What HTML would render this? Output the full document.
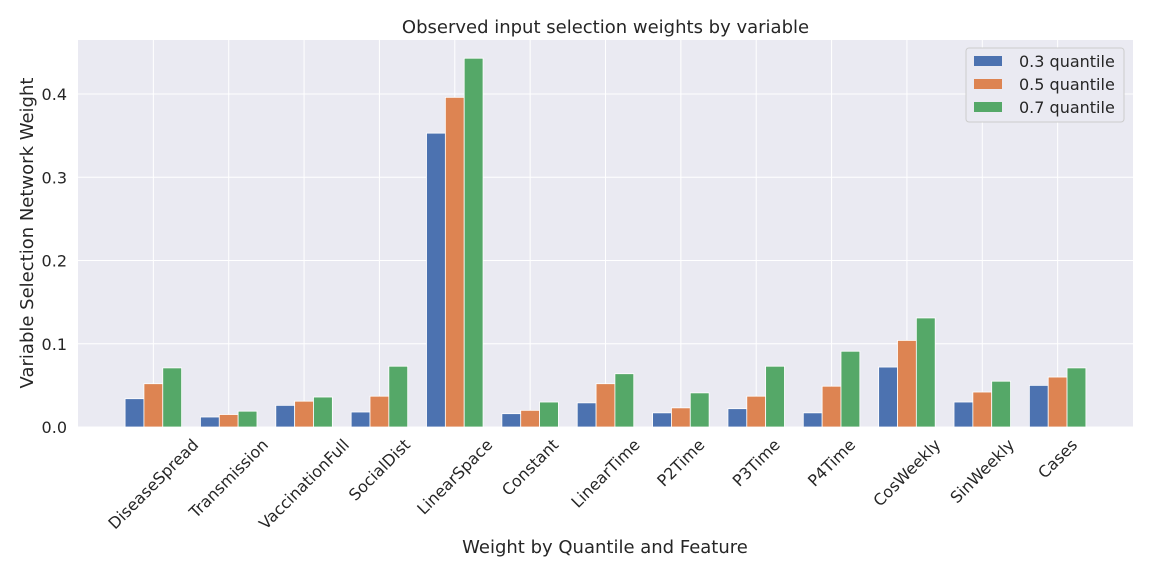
<!DOCTYPE html>
<html><head><meta charset="utf-8"><style>
body{margin:0;background:#fff;font-family:"Liberation Sans","DejaVu Sans",sans-serif}
</style></head><body>
<svg id="chart" width="1152" height="576" font-family="DejaVu Sans, Liberation Sans, sans-serif">
</svg>
<script>
const categories=["DiseaseSpread","Transmission","VaccinationFull","SocialDist","LinearSpace","Constant","LinearTime","P2Time","P3Time","P4Time","CosWeekly","SinWeekly","Cases"];
const q03=[0.034,0.012,0.026,0.018,0.353,0.016,0.029,0.017,0.022,0.017,0.072,0.030,0.050];
const q05=[0.052,0.015,0.031,0.037,0.396,0.020,0.052,0.023,0.037,0.049,0.104,0.042,0.060];
const q07=[0.071,0.019,0.036,0.073,0.443,0.030,0.064,0.041,0.073,0.091,0.131,0.055,0.071];
const yTicks=[0,0.1,0.2,0.3,0.4];
const yTickLabels=["0.0","0.1","0.2","0.3","0.4"];
const seriesNames=["0.3 quantile","0.5 quantile","0.7 quantile"];
const colors=["#4c72b0","#dd8452","#55a868"];

const L=78,R=1133,T=40,B=427;
const xMin=-1,xMax=13,yMax=0.4649;
const xs=v=>L+(v-xMin)/(xMax-xMin)*(R-L);
const ys=v=>B-v/yMax*(B-T);
const svg=document.getElementById('chart');
const NS="http://www.w3.org/2000/svg";
function mk(tag,attrs,parent){const e=document.createElementNS(NS,tag);for(const k in attrs)e.setAttribute(k,attrs[k]);(parent||svg).appendChild(e);return e;}

const bg=mk('rect',{x:L,y:T,width:R-L,height:B-T,fill:'#eaeaf2'});


yTicks.forEach((t,i)=>{
  const g=mk('line',{x1:L,x2:R,y1:ys(t),y2:ys(t),stroke:'#fff','stroke-width':1});
  
  
  const tx=mk('text',{x:L-11,y:ys(t)+6,'text-anchor':'end','font-size':16,fill:'#262626'});
  tx.textContent=yTickLabels[i];
  
  
});
categories.forEach((c,i)=>{
  const x=xs(i);
  const g=mk('line',{x1:x,x2:x,y1:T,y2:B,stroke:'#fff','stroke-width':1});
  
  
});
const series=[q03,q05,q07];
const bw=0.25;
series.forEach((s,si)=>{
  s.forEach((v,i)=>{
    const x0=xs(i+(si-1)*bw-bw/2), x1=xs(i+(si-1)*bw+bw/2);
    const r=mk('rect',{x:x0,y:ys(v),width:x1-x0,height:ys(0)-ys(v),fill:colors[si],stroke:'#fff','stroke-width':0.8});
    
    
  });
});
categories.forEach((c,i)=>{
  const x=xs(i);
  const t=mk('text',{x:x,y:0,'text-anchor':'middle','font-size':16,fill:'#262626','dominant-baseline':'central'});
  t.textContent=c;
  
  
  const w=t.getComputedTextLength();
  const cy=437+(w+14)*0.7071/2;
  t.setAttribute('y',cy);
  t.setAttribute('transform',`rotate(-45 ${x} ${cy})`);
});
const title=mk('text',{x:(L+R)/2,y:33,'text-anchor':'middle','font-size':18,fill:'#262626'});
title.textContent="Observed input selection weights by variable";


const xt=mk('text',{x:605,y:553,'text-anchor':'middle','font-size':18,fill:'#262626'});
xt.textContent="Weight by Quantile and Feature";


const yt=mk('text',{x:33,y:233,'text-anchor':'middle','font-size':18,fill:'#262626',transform:'rotate(-90 33 233)'});
yt.textContent="Variable Selection Network Weight";


const lg=mk('g',{});


mk('rect',{x:966,y:48,width:158,height:74,fill:'#eaeaf2',stroke:'#cccccc','stroke-width':1,rx:3},lg);
seriesNames.forEach((n,i)=>{
  const y=61+i*23;
  const sw=mk('rect',{x:974,y:y-5,width:28,height:10,fill:colors[i]},lg);
  
  
  const t=mk('text',{x:1019,y:y+6,'font-size':16,fill:'#262626'},lg);
  t.textContent=n;
  
  
});
</script>
</body></html>
